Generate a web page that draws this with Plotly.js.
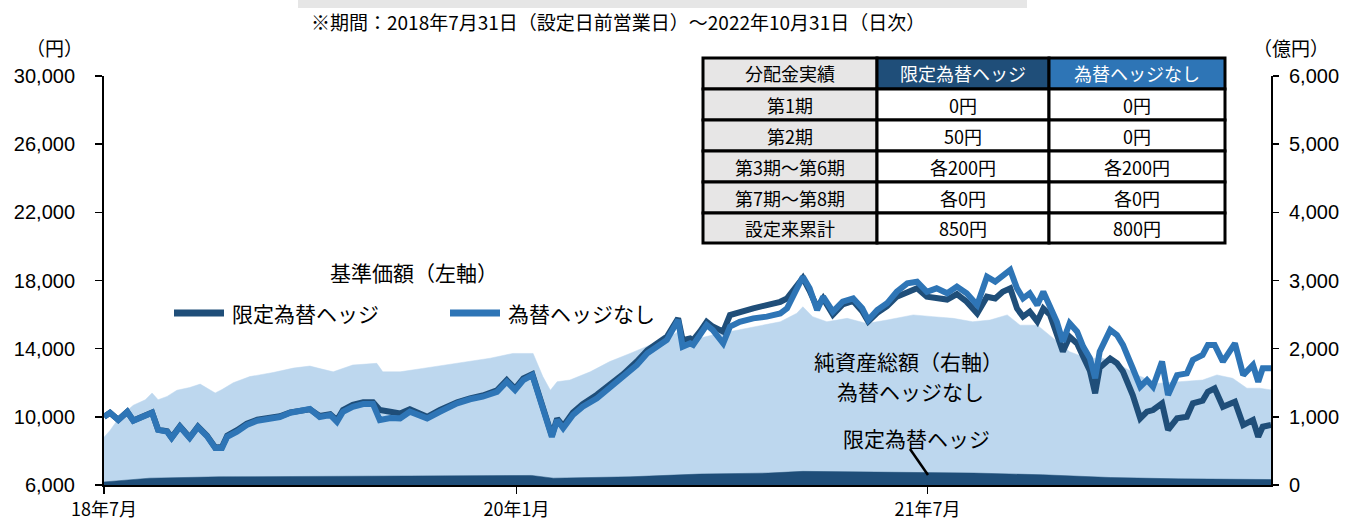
<!DOCTYPE html>
<html>
<head>
<meta charset="utf-8">
<script src="https://cdn.plot.ly/plotly-3.0.1.min.js"></script>
<style>
html,body{margin:0;padding:0;background:#fff;}
#chart{width:1353px;height:524px;}
</style>
</head>
<body>
<div id="chart"></div>
<script>
// ---------------- DATA ----------------
const lineDates = ['2018-07-31','2018-08-08','2018-08-19','2018-08-31','2018-09-08','2018-09-21','2018-10-03','2018-10-11','2018-10-23','2018-10-29','2018-11-09','2018-11-22','2018-12-03','2018-12-15','2018-12-26','2019-01-04','2019-01-11','2019-01-24','2019-02-06','2019-02-20','2019-03-09','2019-03-22','2019-04-05','2019-04-18','2019-05-01','2019-05-14','2019-05-28','2019-06-06','2019-06-14','2019-06-27','2019-07-11','2019-07-24','2019-08-02','2019-08-16','2019-08-29','2019-09-11','2019-10-04','2019-10-21','2019-11-13','2019-11-30','2019-12-17','2020-01-05','2020-01-18','2020-01-29','2020-02-09','2020-02-21','2020-02-29','2020-03-12','2020-03-18','2020-03-25','2020-04-02','2020-04-15','2020-04-28','2020-05-17','2020-05-30','2020-06-07','2020-06-21','2020-07-09','2020-07-23','2020-08-05','2020-08-18','2020-09-02','2020-09-08','2020-09-18','2020-09-22','2020-10-01','2020-10-10','2020-10-18','2020-11-01','2020-11-10','2020-11-23','2020-12-11','2020-12-29','2021-01-16','2021-01-25','2021-02-05','2021-02-15','2021-02-24','2021-03-06','2021-03-14','2021-03-27','2021-04-09','2021-04-23','2021-05-05','2021-05-13','2021-05-25','2021-06-07','2021-06-20','2021-07-04','2021-07-17','2021-07-30','2021-08-12','2021-08-26','2021-09-08','2021-09-21','2021-10-05','2021-10-18','2021-10-29','2021-11-08','2021-11-18','2021-11-27','2021-12-05','2021-12-14','2021-12-24','2022-01-01','2022-01-10','2022-01-19','2022-01-27','2022-02-05','2022-02-15','2022-02-23','2022-03-04','2022-03-11','2022-03-17','2022-03-31','2022-04-09','2022-04-17','2022-04-30','2022-05-10','2022-05-19','2022-05-27','2022-06-08','2022-06-16','2022-06-28','2022-07-11','2022-07-19','2022-08-01','2022-08-08','2022-08-17','2022-08-28','2022-09-13','2022-09-24','2022-10-07','2022-10-14','2022-10-20','2022-10-31'];

// 基準価額 為替ヘッジなし (円)
const navUnhedged = [10000,10240,9810,10300,9770,9990,10240,9230,9130,8760,9420,8760,9400,8870,8170,8170,8830,9130,9520,9770,9930,9990,10240,10360,10460,9990,10110,9710,10300,10590,10750,10750,9810,9930,9910,10300,9910,10300,10790,11030,11180,11470,12060,11570,12160,12450,11380,9810,8830,9810,9330,10110,10590,11090,11570,11870,12360,13040,13730,14120,14510,15680,14120,14310,14220,14800,15390,15100,14310,15290,15580,15780,15880,16070,16370,17340,18220,17540,16270,17050,16170,16760,16950,16370,15680,16270,16660,17340,17830,17930,17340,17540,17250,17640,17250,16560,18220,17930,18320,18620,17540,16950,17250,16560,17340,16460,15580,14410,15490,15000,14120,13440,12260,13820,15100,14800,14220,12850,11770,12160,11770,13240,11280,12450,12550,13340,13630,14220,14220,13240,14310,12450,13040,12060,12850,12850];

// 基準価額 限定為替ヘッジ (円)
const navHedged = [10000,10240,9830,10300,9780,10000,10250,9250,9150,8780,9450,8790,9430,8900,8200,8230,8900,9220,9600,9830,9980,10030,10260,10380,10440,10050,10150,9800,10400,10700,10850,10850,10400,10300,10200,10450,10000,10400,10850,11080,11250,11550,12150,11650,12250,12500,11450,9900,8900,9900,9450,10250,10750,11300,11750,12000,12500,13250,13900,14300,14700,15780,14500,14600,14500,15000,15580,15300,15000,15970,16170,16360,16560,16750,16950,17540,18150,17400,16420,16950,16000,16600,16800,16200,15600,16100,16500,17050,17340,17540,17050,17000,16880,17200,16760,16070,17050,16950,17340,17540,16360,15880,16170,15600,16360,15980,14890,13830,14700,14300,13540,12700,11380,12880,13420,13150,12660,11280,9910,10300,10400,10790,9230,9910,10000,10790,10950,11470,11670,10590,10890,9520,9810,8830,9420,9520];

const aumDates = ['2018-07-31','2018-08-08','2018-08-21','2018-09-08','2018-09-24','2018-10-03','2018-10-11','2018-10-23','2018-11-05','2018-11-22','2018-12-06','2018-12-16','2018-12-26','2019-01-04','2019-01-19','2019-02-10','2019-03-13','2019-04-09','2019-05-01','2019-05-17','2019-06-01','2019-06-27','2019-07-29','2019-08-06','2019-08-29','2019-09-28','2019-11-13','2019-12-27','2020-01-26','2020-02-22','2020-03-06','2020-03-16','2020-03-25','2020-04-11','2020-05-08','2020-06-03','2020-06-30','2020-07-27','2020-08-22','2020-09-02','2020-09-11','2020-10-18','2020-12-03','2021-01-16','2021-02-07','2021-02-15','2021-02-28','2021-03-19','2021-04-15','2021-05-11','2021-06-07','2021-07-12','2021-08-07','2021-09-03','2021-09-29','2021-10-22','2021-11-14','2021-12-01','2021-12-24','2022-01-14','2022-02-05','2022-02-28','2022-03-21','2022-04-13','2022-05-06','2022-06-01','2022-06-28','2022-08-01','2022-08-20','2022-09-10','2022-09-29','2022-10-16','2022-10-31'];

// 純資産総額 為替ヘッジなし (億円)
const aumUnhedged = [700,800,1000,1170,1250,1350,1250,1300,1390,1430,1480,1420,1350,1400,1500,1590,1650,1715,1745,1700,1660,1760,1785,1660,1660,1710,1785,1860,1930,1930,1590,1390,1515,1540,1660,1810,1930,2050,2175,2250,2100,2200,2300,2395,2520,2615,2470,2395,2445,2370,2420,2495,2470,2445,2395,2420,2495,2345,2345,2150,1955,1860,1860,1760,1615,1490,1515,1540,1615,1565,1420,1420,1395];

const aumHedgedDates = ['2018-07-31','2018-09-30','2018-12-31','2019-06-30','2019-12-31','2020-02-20','2020-03-20','2020-06-30','2020-09-30','2020-12-31','2021-02-15','2021-06-30','2021-09-30','2021-12-31','2022-03-31','2022-06-30','2022-10-31'];
// 純資産総額 限定為替ヘッジ (億円)
const aumHedged = [45,100,120,130,140,140,100,120,160,175,200,180,175,150,110,90,80];

// tick labels
const xTickVals = ['2018-07-31','2020-01-31','2021-07-31'];
const xTickText = ['18年7月','20年1月','21年7月'];
const leftTickVals = [6000,10000,14000,18000,22000,26000,30000];
const rightTickVals = [0,1000,2000,3000,4000,5000,6000];

// distribution table
const tableHeader = ['分配金実績','限定為替ヘッジ','為替ヘッジなし'];
const periods = ['第1期','第2期','第3期～第6期','第7期～第8期','設定来累計'];
const distHedged = ['0円','50円','各200円','各0円','850円'];
const distUnhedged = ['0円','0円','各200円','各0円','800円'];

// ---------------- STYLE ----------------
const NAVY = '#1F4E79', BLUE = '#2E75B6', LIGHT = '#BDD7EE';
const FONT = 'Liberation Sans, Arial, "Noto Sans CJK JP", sans-serif';
const JFONT = '"Noto Sans CJK JP", "Liberation Sans", sans-serif';
const W = 1353, H = 524, L = 104, R = 1271, T = 76, B = 485;
const px = x => (x - L) / (R - L);
const py = y => (B - y) / (B - T);

const traces = [
  {x: aumDates, y: aumUnhedged, type: 'scatter', mode: 'lines', fill: 'tozeroy',
   fillcolor: LIGHT, line: {color: LIGHT, width: 0.5}, yaxis: 'y', xaxis: 'x', hoverinfo: 'skip'},
  {x: aumHedgedDates, y: aumHedged, type: 'scatter', mode: 'lines', fill: 'tozeroy',
   fillcolor: NAVY, line: {color: NAVY, width: 0.5}, yaxis: 'y', xaxis: 'x', hoverinfo: 'skip'},
  {x: lineDates, y: navHedged, type: 'scatter', mode: 'lines',
   line: {color: NAVY, width: 6, shape: 'linear'}, yaxis: 'y2', xaxis: 'x'},
  {x: lineDates, y: navUnhedged, type: 'scatter', mode: 'lines',
   line: {color: BLUE, width: 6, shape: 'linear'}, yaxis: 'y2', xaxis: 'x'}
];

const shapes = [];
const annotations = [];

// grey band at top
shapes.push({type: 'rect', xref: 'paper', yref: 'paper', x0: px(298), x1: px(1027), y0: py(8), y1: py(0),
  fillcolor: '#E6E6E6', line: {width: 0}, layer: 'above'});

// table
const colX = [703, 877, 1049, 1225];
const rowY = [58, 89, 120, 151, 182, 213, 243];
const rows = [tableHeader].concat(periods.map((p, i) => [p, distHedged[i], distUnhedged[i]]));
rows.forEach((row, r) => {
  row.forEach((txt, c) => {
    let fill = '#FFFFFF', color = '#000000';
    if (c === 0) fill = '#E7E6E6';
    if (r === 0 && c === 1) { fill = NAVY; color = '#FFFFFF'; }
    if (r === 0 && c === 2) { fill = BLUE; color = '#FFFFFF'; }
    shapes.push({type: 'rect', xref: 'paper', yref: 'paper',
      x0: px(colX[c]), x1: px(colX[c + 1]), y0: py(rowY[r + 1]), y1: py(rowY[r]),
      fillcolor: fill, line: {color: '#000000', width: 3}, layer: 'above'});
    annotations.push({xref: 'paper', yref: 'paper', x: px((colX[c] + colX[c + 1]) / 2),
      y: py((rowY[r] + rowY[r + 1]) / 2), text: txt, showarrow: false,
      xanchor: 'center', yanchor: 'middle', font: {family: JFONT, size: 18, color: color}});
  });
});

// legend samples
shapes.push({type: 'line', xref: 'paper', yref: 'paper', x0: px(174), x1: px(224), y0: py(313), y1: py(313),
  line: {color: NAVY, width: 7}, layer: 'above'});
shapes.push({type: 'line', xref: 'paper', yref: 'paper', x0: px(450), x1: px(500), y0: py(313), y1: py(313),
  line: {color: BLUE, width: 7}, layer: 'above'});
// pointer line
shapes.push({type: 'line', xref: 'paper', yref: 'paper', x0: px(910), x1: px(928), y0: py(449), y1: py(475),
  line: {color: '#000000', width: 2.5}, layer: 'above'});

const txt = (x, y, t, size, anchor) => annotations.push({xref: 'paper', yref: 'paper', x: px(x), y: py(y),
  text: t, showarrow: false, xanchor: anchor || 'center', yanchor: 'middle',
  font: {family: JFONT, size: size, color: '#000000'}});

txt(618, 22, '※期間：2018年7月31日（設定日前営業日）～2022年10月31日（日次）', 19);
txt(54, 47, '（円）', 19);
txt(1291, 47, '（億円）', 19);
txt(414, 272, '基準価額（左軸）', 21);
txt(230, 313, '限定為替ヘッジ', 21, 'left');
txt(506, 313, '為替ヘッジなし', 21, 'left');
txt(908, 361, '純資産総額（右軸）', 21);
txt(911, 391, '為替ヘッジなし', 21);
txt(916, 438, '限定為替ヘッジ', 21);

const layout = {
  width: W, height: H,
  margin: {l: L, r: W - R, t: T, b: H - B, pad: 0},
  paper_bgcolor: '#FFFFFF', plot_bgcolor: 'rgba(0,0,0,0)',
  showlegend: false,
  font: {family: FONT, size: 19, color: '#000000'},
  xaxis: {type: 'date', range: ['2018-07-31', '2022-10-31'], tickmode: 'array',
    tickvals: xTickVals, ticktext: xTickText, ticks: 'outside', ticklen: 7, tickwidth: 1.5,
    tickcolor: '#000', showline: true, linecolor: '#000', linewidth: 2, showgrid: false,
    zeroline: false, tickfont: {family: JFONT, size: 18}},
  yaxis: {range: [0, 6000], side: 'right', tickmode: 'array', tickvals: rightTickVals,
    tickformat: ',d', tickprefix: '\u00a0\u00a0', ticks: 'outside', ticklen: 6, tickwidth: 1.5, tickcolor: '#000',
    showline: true, linecolor: '#000', linewidth: 2, showgrid: false, zeroline: false,
    tickfont: {family: FONT, size: 20}, ticklabelstandoff: 6},
  yaxis2: {range: [6000, 30000], side: 'left', overlaying: 'y', tickmode: 'array',
    tickvals: leftTickVals, tickformat: ',d', ticks: 'outside', ticklen: 7, tickwidth: 1.5,
    tickcolor: '#000', showline: true, linecolor: '#000', linewidth: 2, showgrid: false,
    zeroline: false, tickfont: {family: FONT, size: 20}, ticklabelstandoff: 16},
  shapes: shapes,
  annotations: annotations
};

Plotly.newPlot('chart', traces, layout, {staticPlot: true, displayModeBar: false});
</script>
</body>
</html>
